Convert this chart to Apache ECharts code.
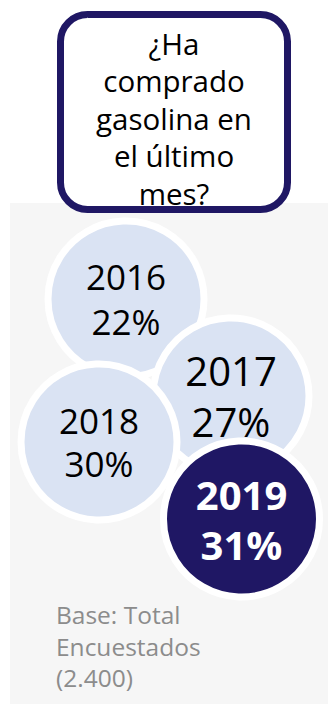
<!DOCTYPE html>
<html>
<head>
<meta charset="utf-8">
<script src="https://cdn.jsdelivr.net/npm/echarts@6/dist/echarts.min.js"></script>
<style>
  html, body { margin: 0; padding: 0; background: #ffffff; }
  #chart { width: 328px; height: 704px; }
</style>
</head>
<body>
<div id="chart"></div>
<script>
// Share of respondents who bought petrol in the last month, by survey year
const years = ['2016', '2017', '2018', '2019'];
const shares = [22, 27, 30, 31];

const questionLines = ['¿Ha', 'comprado', 'gasolina en', 'el último', 'mes?'];
const baseLines = ['Base: Total', 'Encuestados', '(2.400)'];

// Bubble placement on a 328 x 704 layout plane (one slot per year)
const bubbleSlots = [[126, 299], [231, 396], [99, 442], [241.5, 519]];

// Per-bubble look
const NAVY = '#1f1764';
const PALE = '#dae3f3';
const bubbleFill = [PALE, PALE, PALE, NAVY];
const labelColor = ['#000000', '#000000', '#000000', '#ffffff'];
const labelSize = [35, 40, 35, 40];
const labelLine = [45, 51, 43, 50];
const labelWeight = ['normal', 'normal', 'normal', 'bold'];

const FONT = '"Open Sans", "Noto Sans", sans-serif';

const chart = echarts.init(document.getElementById('chart'), null, { renderer: 'svg' });

const bubbles = shares.map((v, i) => ({
  name: years[i],
  value: [bubbleSlots[i][0], bubbleSlots[i][1], v],
  itemStyle: { color: bubbleFill[i] },
  label: {
    color: labelColor[i],
    fontSize: labelSize[i],
    lineHeight: labelLine[i],
    fontWeight: labelWeight[i]
  }
}));

chart.setOption({
  animation: false,
  backgroundColor: '#ffffff',
  grid: { left: 0, right: 0, top: 0, bottom: 0 },
  xAxis: { type: 'value', min: 0, max: 328, show: false },
  yAxis: { type: 'value', min: 0, max: 704, inverse: true, show: false },
  graphic: [
    {
      type: 'rect', z: 0, silent: true,
      shape: { x: 10, y: 203, width: 318, height: 501 },
      style: { fill: '#f6f6f6' }
    },
    {
      type: 'rect', z: 10, silent: true,
      shape: { x: 60.5, y: 14.5, width: 227, height: 195, r: 27 },
      style: { fill: '#ffffff', stroke: NAVY, lineWidth: 7 }
    },
    {
      type: 'text', z: 11, silent: true,
      x: 174, y: 118,
      style: {
        text: questionLines.join('\n'),
        font: '29.5px ' + FONT,
        fill: '#000000',
        align: 'center',
        verticalAlign: 'middle',
        lineHeight: 37.5
      }
    },
    {
      type: 'text', z: 11, silent: true,
      x: 56, y: 646,
      style: {
        text: baseLines.join('\n'),
        font: '24.5px ' + FONT,
        fill: '#8c8c8c',
        align: 'left',
        verticalAlign: 'middle',
        lineHeight: 31.5
      }
    }
  ],
  series: [{
    type: 'scatter',
    z: 5,
    data: bubbles,
    symbol: 'circle',
    symbolSize: 156,
    clip: false,
    itemStyle: { borderColor: '#ffffff', borderWidth: 7, opacity: 1 },
    label: {
      show: true,
      position: 'inside',
      fontFamily: FONT,
      formatter: p => p.name + '\n' + p.value[2] + '%'
    },
    emphasis: { disabled: true }
  }]
});
</script>
</body>
</html>
